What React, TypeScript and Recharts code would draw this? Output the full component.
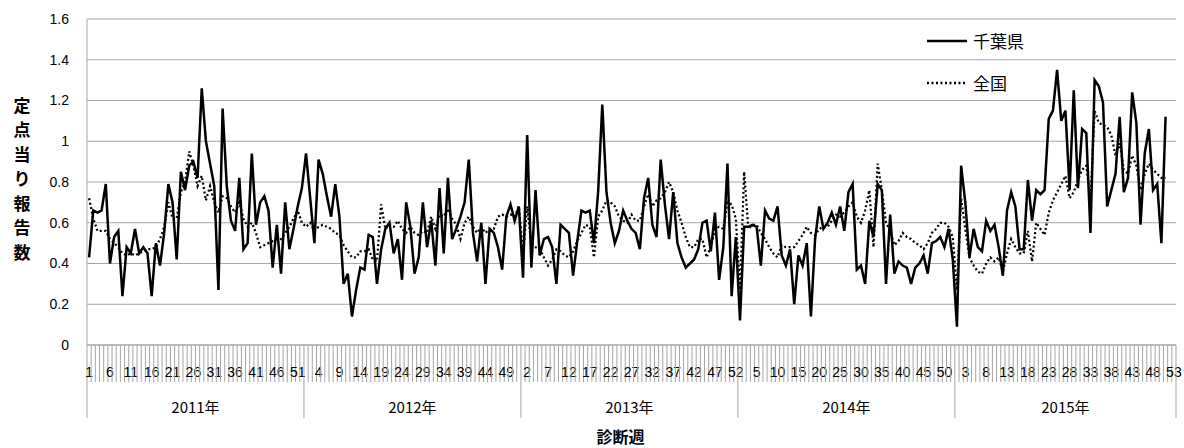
import React from 'react';
import { LineChart, Line, XAxis, YAxis, CartesianGrid } from 'recharts';

const YEARS = ['2011年', '2012年', '2013年', '2014年', '2015年'];
const WEEKS_PER_YEAR = [52, 52, 52, 52, 53];
const LABEL_EVERY = 5;
const Y_TICKS = [0, 0.2, 0.4, 0.6, 0.8, 1, 1.2, 1.4, 1.6];
const Y_TITLE = '定点当り報告数';

// 千葉県
const CHIBA_2011 = [0.43, 0.66, 0.65, 0.66, 0.79, 0.40, 0.53, 0.56, 0.24, 0.48, 0.45, 0.57, 0.45, 0.48, 0.45, 0.24, 0.50, 0.39, 0.55, 0.79, 0.70, 0.42, 0.85, 0.76, 0.88, 0.90, 0.82, 1.26, 1.00, 0.89, 0.78, 0.27, 1.16, 0.78, 0.61, 0.56, 0.82, 0.47, 0.50, 0.94, 0.59, 0.70, 0.73, 0.66, 0.38, 0.59, 0.35, 0.70, 0.47, 0.57, 0.68, 0.77];
const CHIBA_2012 = [0.94, 0.72, 0.50, 0.91, 0.84, 0.73, 0.63, 0.79, 0.63, 0.30, 0.35, 0.14, 0.27, 0.38, 0.37, 0.54, 0.53, 0.30, 0.47, 0.57, 0.60, 0.45, 0.52, 0.32, 0.70, 0.58, 0.35, 0.43, 0.70, 0.48, 0.61, 0.39, 0.77, 0.45, 0.82, 0.52, 0.57, 0.63, 0.70, 0.91, 0.55, 0.41, 0.60, 0.30, 0.57, 0.55, 0.48, 0.37, 0.63, 0.69, 0.61, 0.68];
const CHIBA_2013 = [0.33, 1.03, 0.38, 0.76, 0.44, 0.52, 0.53, 0.48, 0.30, 0.59, 0.57, 0.55, 0.34, 0.51, 0.66, 0.65, 0.66, 0.50, 0.75, 1.18, 0.75, 0.60, 0.50, 0.56, 0.66, 0.61, 0.57, 0.55, 0.47, 0.72, 0.82, 0.59, 0.53, 0.91, 0.69, 0.52, 0.75, 0.50, 0.43, 0.38, 0.40, 0.42, 0.47, 0.60, 0.61, 0.46, 0.65, 0.32, 0.48, 0.89, 0.24, 0.53];
const CHIBA_2014 = [0.12, 0.58, 0.58, 0.59, 0.58, 0.39, 0.66, 0.62, 0.61, 0.68, 0.44, 0.39, 0.47, 0.20, 0.44, 0.39, 0.50, 0.14, 0.52, 0.68, 0.57, 0.60, 0.65, 0.59, 0.68, 0.56, 0.75, 0.79, 0.37, 0.39, 0.30, 0.61, 0.53, 0.79, 0.76, 0.30, 0.64, 0.35, 0.41, 0.39, 0.38, 0.30, 0.38, 0.40, 0.44, 0.35, 0.50, 0.51, 0.53, 0.48, 0.57, 0.42];
const CHIBA_2015 = [0.09, 0.88, 0.70, 0.43, 0.57, 0.48, 0.46, 0.61, 0.56, 0.59, 0.48, 0.34, 0.66, 0.75, 0.68, 0.47, 0.47, 0.81, 0.61, 0.76, 0.74, 0.76, 1.11, 1.15, 1.35, 1.10, 1.15, 0.76, 1.25, 0.77, 1.06, 1.04, 0.55, 1.30, 1.27, 1.19, 0.68, 0.76, 0.84, 1.12, 0.75, 0.82, 1.24, 1.09, 0.59, 0.94, 1.06, 0.76, 0.79, 0.50, 1.12];

// 全国
const ZENKOKU_2011 = [0.72, 0.62, 0.56, 0.56, 0.56, 0.52, 0.50, 0.48, 0.45, 0.44, 0.45, 0.44, 0.45, 0.46, 0.47, 0.47, 0.48, 0.52, 0.58, 0.70, 0.62, 0.62, 0.75, 0.80, 0.95, 0.88, 0.78, 0.83, 0.71, 0.78, 0.70, 0.65, 0.73, 0.72, 0.68, 0.65, 0.70, 0.62, 0.58, 0.60, 0.55, 0.48, 0.49, 0.50, 0.51, 0.52, 0.52, 0.55, 0.58, 0.62, 0.66, 0.60];
const ZENKOKU_2012 = [0.58, 0.60, 0.56, 0.58, 0.59, 0.58, 0.57, 0.55, 0.54, 0.49, 0.46, 0.43, 0.43, 0.46, 0.46, 0.47, 0.42, 0.41, 0.69, 0.57, 0.59, 0.58, 0.61, 0.57, 0.55, 0.58, 0.55, 0.54, 0.56, 0.55, 0.63, 0.57, 0.64, 0.63, 0.67, 0.62, 0.59, 0.52, 0.60, 0.63, 0.58, 0.55, 0.58, 0.55, 0.57, 0.57, 0.63, 0.64, 0.63, 0.64, 0.63, 0.68];
const ZENKOKU_2013 = [0.45, 0.68, 0.49, 0.48, 0.47, 0.43, 0.39, 0.42, 0.47, 0.46, 0.44, 0.43, 0.46, 0.51, 0.55, 0.59, 0.58, 0.43, 0.63, 0.66, 0.71, 0.70, 0.68, 0.63, 0.61, 0.60, 0.64, 0.61, 0.61, 0.68, 0.74, 0.68, 0.71, 0.72, 0.75, 0.80, 0.75, 0.66, 0.60, 0.53, 0.48, 0.48, 0.52, 0.52, 0.43, 0.48, 0.57, 0.58, 0.57, 0.70, 0.69, 0.62];
const ZENKOKU_2014 = [0.27, 0.85, 0.57, 0.59, 0.59, 0.55, 0.52, 0.48, 0.45, 0.43, 0.49, 0.48, 0.48, 0.48, 0.51, 0.54, 0.58, 0.55, 0.54, 0.57, 0.58, 0.58, 0.61, 0.64, 0.63, 0.65, 0.68, 0.70, 0.63, 0.60, 0.66, 0.76, 0.48, 0.89, 0.76, 0.60, 0.56, 0.49, 0.51, 0.55, 0.53, 0.52, 0.50, 0.49, 0.47, 0.50, 0.55, 0.57, 0.60, 0.60, 0.58, 0.53];
const ZENKOKU_2015 = [0.27, 0.72, 0.57, 0.43, 0.39, 0.36, 0.35, 0.40, 0.43, 0.41, 0.43, 0.36, 0.45, 0.52, 0.48, 0.45, 0.45, 0.56, 0.41, 0.60, 0.57, 0.54, 0.65, 0.71, 0.75, 0.79, 0.83, 0.72, 0.75, 0.81, 0.86, 0.88, 0.71, 1.15, 1.09, 1.08, 1.07, 1.03, 0.93, 0.99, 0.86, 0.84, 0.93, 0.88, 0.76, 0.84, 0.89, 0.86, 0.84, 0.82, 0.82];

const CHIBA = [CHIBA_2011, CHIBA_2012, CHIBA_2013, CHIBA_2014, CHIBA_2015];
const ZENKOKU = [ZENKOKU_2011, ZENKOKU_2012, ZENKOKU_2013, ZENKOKU_2014, ZENKOKU_2015];

// one row per week, running index on the x axis
const rows: any[] = [];
const yearStart: number[] = [];
WEEKS_PER_YEAR.forEach((weeks, y) => {
  yearStart.push(rows.length);
  for (let k = 0; k < weeks; k++) {
    rows.push({
      idx: rows.length,
      week: k + 1,
      chiba: CHIBA[y][k] ?? null,
      zenkoku: ZENKOKU[y][k] ?? null,
    });
  }
});
const total = rows.length;

const yearBounds = new Set([...yearStart.map((s) => s - 0.5), total - 0.5]);
const yearCenters = new Map(yearStart.map((s, y) => [s + (WEEKS_PER_YEAR[y] - 1) / 2, YEARS[y]]));
// boundaries (x.5) get tick marks, integers get week labels
const xTicks = [
  ...Array.from({ length: total + 1 }, (_, i) => i - 0.5),
  ...rows.map((r) => r.idx),
].sort((a, b) => a - b);

const GRAY = '#a6a6a6';
const LATIN = '"Liberation Sans", Arial, sans-serif';
const CJK = '"Noto Sans CJK JP", sans-serif';

const WeekTick = (props: any) => {
  const { x, y, payload } = props;
  const v = payload.value;
  const yearLabel = yearCenters.get(v);
  return (
    <g>
      {!Number.isInteger(v) && (
        <line x1={x} x2={x} y1={y} y2={y + (yearBounds.has(v) ? 73 : 37)} stroke={GRAY} strokeWidth={1} />
      )}
      {Number.isInteger(v) && v % LABEL_EVERY === 0 && (
        <text x={x} y={y + 32} textAnchor="middle" fontSize={14} fontFamily={LATIN} fill="#000">
          {rows[v].week}
        </text>
      )}
      {yearLabel && (
        <text x={x} y={y + 68} textAnchor="middle" fontSize={15} fontFamily={CJK} fill="#000">
          {yearLabel}
        </text>
      )}
    </g>
  );
};

const YTitle = () => (
  <g>
    {Y_TITLE.split('').map((c, i) => (
      <text key={i} x={22} y={104 + i * 24.5} textAnchor="middle" dominantBaseline="central"
        fontSize={17} fontWeight="bold" fontFamily={CJK} fill="#000">
        {c}
      </text>
    ))}
  </g>
);

const LegendRow = ({ dotted, label }: { dotted?: boolean; label: string }) => (
  <div style={{ display: 'flex', alignItems: 'center', height: 22 }}>
    <svg width={44} height={10}>
      <line x1={2} x2={42} y1={5} y2={5} stroke="#000" strokeWidth={2.5}
        strokeDasharray={dotted ? '2 2.5' : undefined} />
    </svg>
    <span style={{ marginLeft: 4, fontSize: 17, fontFamily: CJK, lineHeight: '22px' }}>{label}</span>
  </div>
);

export default function App() {
  return (
    <div style={{ position: 'relative', width: 1184, height: 448, background: '#fff' }}>
      <style>{'body{margin:0}'}</style>
      <LineChart width={1184} height={448} data={rows} margin={{ top: 19, right: 8, left: 0, bottom: 0 }}>
        <CartesianGrid vertical={false} stroke={GRAY} />
        <XAxis
          dataKey="idx"
          type="number"
          domain={[-0.5, total - 0.5]}
          ticks={xTicks}
          interval={0}
          tick={WeekTick}
          tickLine={false}
          tickSize={0}
          tickMargin={0}
          axisLine={{ stroke: GRAY }}
          height={103}
          label={{ value: '診断週', position: 'insideBottom', offset: 5, dx: -11,
            style: { fontSize: 16, fontWeight: 'bold', fontFamily: CJK, fill: '#000' } }}
        />
        <YAxis
          domain={[0, 1.6]}
          ticks={Y_TICKS}
          width={87}
          tickLine={false}
          tickSize={0}
          tickMargin={18}
          axisLine={{ stroke: GRAY }}
          tick={{ fontSize: 14, fontFamily: LATIN, fill: '#000' }}
          label={{ content: () => <YTitle /> }}
        />
        <Line type="linear" dataKey="zenkoku" stroke="#000" strokeWidth={2.25} strokeDasharray="2 2.5"
          dot={false} activeDot={false} isAnimationActive={false} />
        <Line type="linear" dataKey="chiba" stroke="#000" strokeWidth={2.5}
          dot={false} activeDot={false} isAnimationActive={false} />
      </LineChart>
      <div style={{ position: 'absolute', left: 925, top: 30 }}>
        <LegendRow label="千葉県" />
        <div style={{ height: 20 }} />
        <LegendRow dotted label="全国" />
      </div>
    </div>
  );
}
